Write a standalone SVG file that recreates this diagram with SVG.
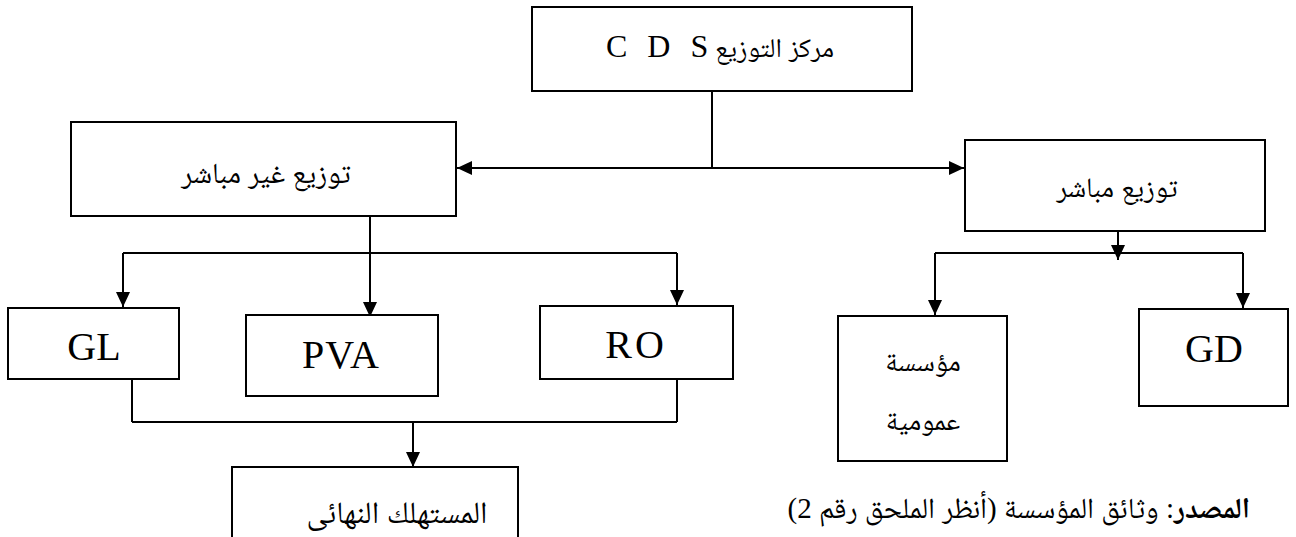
<svg xmlns="http://www.w3.org/2000/svg" width="1296" height="537" viewBox="0 0 1296 537">
  <style>
    .box { fill: #ffffff; stroke: #000000; stroke-width: 2; }
    .ln { fill: none; stroke: #000000; stroke-width: 2; }
    .lat { font-family: "Liberation Serif", "Times New Roman", serif; font-size: 40px; fill: #000; text-anchor: middle; }
    .ar { font-family: "Liberation Serif", "Noto Naskh Arabic", "Amiri", "DejaVu Sans", serif; font-size: 28px; fill: #000; text-anchor: middle; }
    .src { font-family: "Liberation Serif", "Noto Naskh Arabic", "Amiri", "DejaVu Sans", serif; font-size: 29px; fill: #000; }
  </style>
  <defs>
    <marker id="arr" viewBox="0 0 15 14" refX="15" refY="7" markerWidth="15" markerHeight="14" markerUnits="userSpaceOnUse" orient="auto">
      <path d="M0,0 L15,7 L0,14 Z" fill="#000"/>
    </marker>
    <marker id="arrStart" viewBox="0 0 15 14" refX="0" refY="7" markerWidth="15" markerHeight="14" markerUnits="userSpaceOnUse" orient="auto">
      <path d="M15,0 L0,7 L15,14 Z" fill="#000"/>
    </marker>
  </defs>

  <!-- connectors -->
  <g id="connectors">
    <line class="ln" x1="712" y1="91" x2="712" y2="168"/>
    <line class="ln" x1="457" y1="168" x2="964" y2="168" marker-start="url(#arrStart)" marker-end="url(#arr)"/>
    <!-- indirect branch -->
    <line class="ln" x1="370" y1="208" x2="370" y2="317" marker-end="url(#arr)"/>
    <line class="ln" x1="123" y1="253" x2="677" y2="253"/>
    <line class="ln" x1="123" y1="253" x2="123" y2="307" marker-end="url(#arr)"/>
    <line class="ln" x1="677" y1="253" x2="677" y2="305" marker-end="url(#arr)"/>
    <!-- merge to final consumer -->
    <line class="ln" x1="132" y1="379" x2="132" y2="422"/>
    <line class="ln" x1="677" y1="379" x2="677" y2="422"/>
    <line class="ln" x1="132" y1="422" x2="677" y2="422"/>
    <line class="ln" x1="413" y1="422" x2="413" y2="467" marker-end="url(#arr)"/>
    <!-- direct branch -->
    <line class="ln" x1="1118" y1="222" x2="1118" y2="260" marker-end="url(#arr)"/>
    <line class="ln" x1="935" y1="253" x2="1243" y2="253"/>
    <line class="ln" x1="935" y1="253" x2="935" y2="315" marker-end="url(#arr)"/>
    <line class="ln" x1="1243" y1="253" x2="1243" y2="308" marker-end="url(#arr)"/>
  </g>

  <g id="cds">
    <rect class="box" x="532" y="7" width="380" height="84"/>
    <text class="ar" x="720" y="57" direction="rtl" style="font-size:27px">مركز التوزيع <tspan class="lat" style="font-size:32px" word-spacing="12">C D S</tspan></text>
  </g>

  <g id="indirect">
    <rect class="box" x="71" y="122" width="385" height="94"/>
    <text class="ar" x="266" y="183" direction="rtl" style="font-size:29px">توزيع غير مباشر</text>
  </g>

  <g id="direct">
    <rect class="box" x="965" y="140" width="300" height="91"/>
    <text class="ar" x="1117" y="197" direction="rtl">توزيع مباشر</text>
  </g>

  <g id="gl">
    <rect class="box" x="8" y="308" width="171" height="71"/>
    <text class="lat" x="94" y="360">GL</text>
  </g>

  <g id="pva">
    <rect class="box" x="246" y="315" width="192" height="81"/>
    <text class="lat" x="341" y="368" letter-spacing="1">PVA</text>
  </g>

  <g id="ro">
    <rect class="box" x="540" y="306" width="193" height="73"/>
    <text class="lat" x="636" y="358" letter-spacing="3">RO</text>
  </g>

  <g id="public">
    <rect class="box" x="838" y="316" width="169" height="145"/>
    <text class="ar" x="923" y="371" direction="rtl">مؤسسة</text>
    <text class="ar" x="923" y="430" direction="rtl">عمومية</text>
  </g>

  <g id="gd">
    <rect class="box" x="1139" y="309" width="149" height="97"/>
    <text class="lat" x="1214" y="362">GD</text>
  </g>

  <g id="consumer">
    <rect class="box" x="232" y="467" width="286" height="80"/>
    <text class="ar" x="397" y="523" direction="rtl" style="font-size:31px">المستهلك النهائى</text>
  </g>

  <g id="source">
    <text class="src" x="1250" y="518" direction="rtl" text-anchor="start"><tspan font-weight="bold">المصدر</tspan>: وثائق المؤسسة (أنظر الملحق رقم 2)</text>
  </g>
</svg>
